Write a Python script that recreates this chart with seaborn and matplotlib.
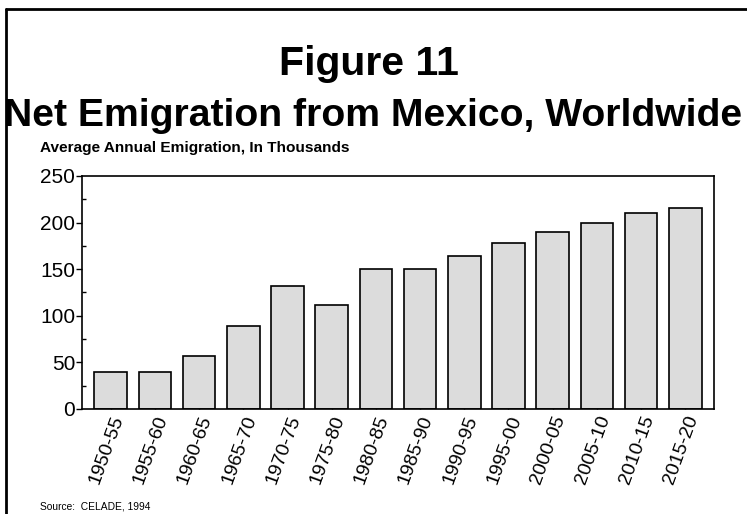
import seaborn as sns
import matplotlib.pyplot as plt
import pandas as pd
from matplotlib.ticker import MultipleLocator
from matplotlib.lines import Line2D

# Average annual emigration (thousands)
periods = ['1950-55', '1955-60', '1960-65', '1965-70', '1970-75', '1975-80',
           '1980-85', '1985-90', '1990-95', '1995-00', '2000-05', '2005-10',
           '2010-15', '2015-20']
emigration = [40, 40, 57, 89, 132, 112, 150, 150, 164, 178, 190, 200, 210, 216]

df = pd.DataFrame({'period': periods, 'emigration': emigration})

sns.set_style('ticks')
plt.rcParams['font.family'] = ['Liberation Sans', 'DejaVu Sans']
plt.rcParams['text.color'] = 'black'
plt.rcParams['xtick.color'] = 'black'
plt.rcParams['ytick.color'] = 'black'
plt.rcParams['axes.edgecolor'] = 'black'

fig = plt.figure(figsize=(7.47, 5.14), dpi=100)
ax = fig.add_axes([0.1098, 0.2043, 0.846, 0.4533])

sns.barplot(data=df, x='period', y='emigration', color='#dcdcdc',
            edgecolor='black', linewidth=1.2, width=0.74, saturation=1, ax=ax)

ax.set_xlim(-0.65, len(periods) - 0.35)
ax.set_ylim(0, 250)
ax.yaxis.set_major_locator(MultipleLocator(50))
ax.yaxis.set_minor_locator(MultipleLocator(25))
ax.tick_params(axis='y', which='major', direction='out', length=4.3,
               labelsize=15, width=1, pad=0.5)
ax.tick_params(axis='y', which='minor', direction='in', length=3, width=1)
ax.tick_params(axis='x', which='major', direction='in', length=4.5,
               labelsize=14, width=1, pad=3)
plt.setp(ax.get_xticklabels(), rotation=70, ha='right', va='top',
         rotation_mode='anchor')
for s in ax.spines.values():
    s.set_linewidth(1.2)
    s.set_visible(True)
ax.set_xlabel('')
ax.set_ylabel('')

fig.text(0.494, 0.875, 'Figure 11', ha='center', va='center',
         fontsize=29.5, fontweight='bold')
fig.text(0.5, 0.775, 'Net Emigration from Mexico, Worldwide', ha='center',
         va='center', fontsize=28.2, fontweight='bold')
fig.text(0.054, 0.713, 'Average Annual Emigration, In Thousands', ha='left',
         va='center', fontsize=11.1, fontweight='bold')
fig.text(0.054, 0.014, 'Source:  CELADE, 1994', ha='left', va='center',
         fontsize=7.4)

# outer frame (left and top edges)
fig.add_artist(Line2D([0.008, 0.008], [0.0, 0.982], color='black', lw=2))
fig.add_artist(Line2D([0.008, 1.0], [0.982, 0.982], color='black', lw=2))

fig.savefig('out.png', dpi=100)
